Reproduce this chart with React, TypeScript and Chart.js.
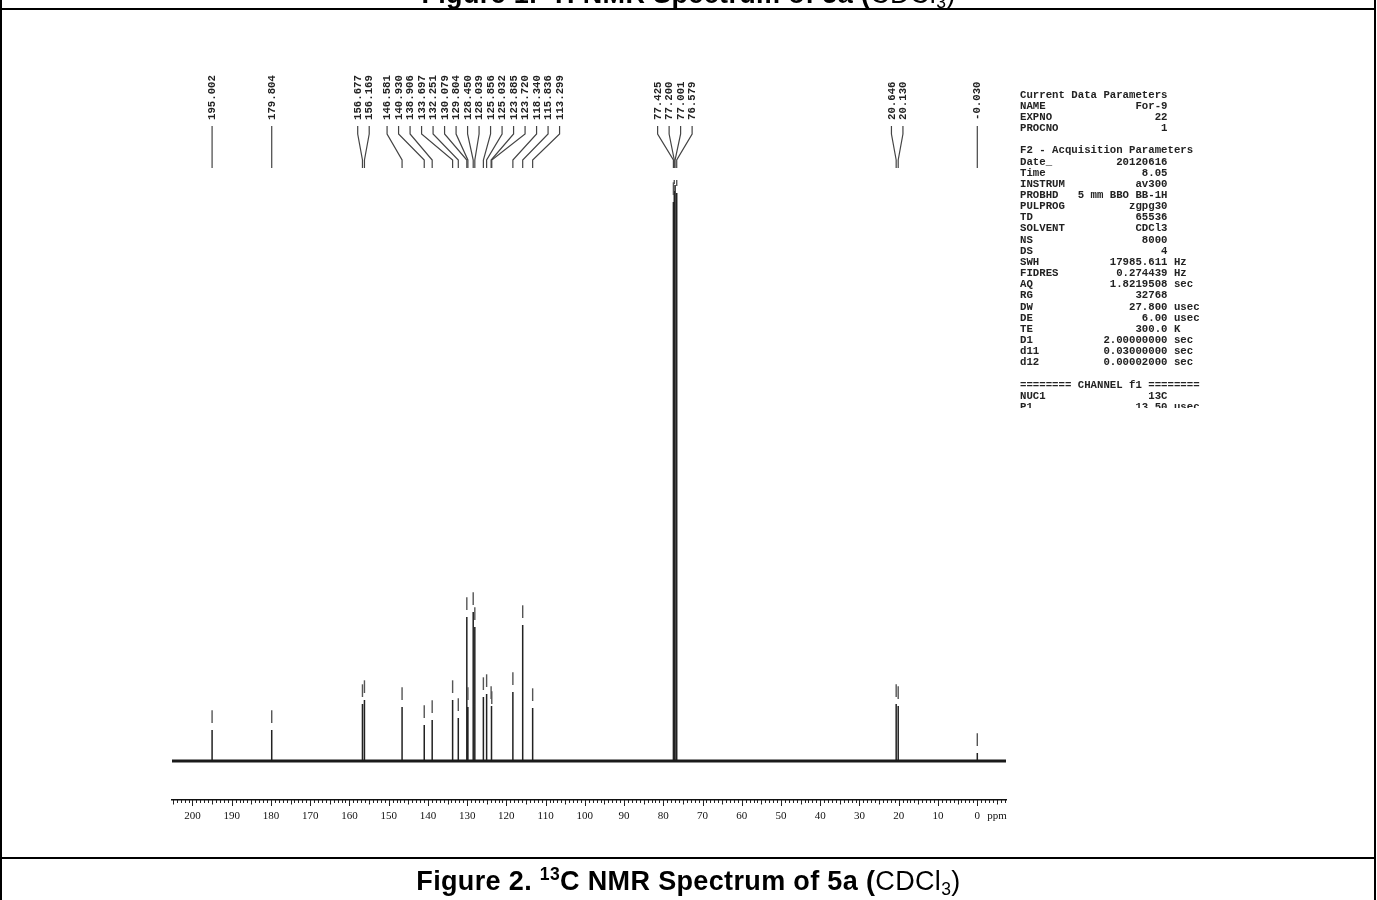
import React, { useEffect, useRef } from 'react';
import { Chart, registerables } from 'chart.js';

Chart.register(...registerables);

// ---------- data ----------
const peakPpm = [
  195.002, 179.804, 156.677, 156.169, 146.581, 140.93, 138.906, 133.697, 132.251,
  130.079, 129.804, 128.45, 128.039, 125.856, 125.032, 123.885, 123.72, 118.34,
  115.836, 113.299, 77.425, 77.2, 77.001, 76.579, 20.646, 20.13, -0.03,
];
// relative intensity (arbitrary units)
const peakIntensity = [
  31, 31, 57, 61, 54, 36, 41, 61, 43,
  144, 54, 149, 134, 64, 67, 55, 50, 69,
  136, 53, 559, 570, 576, 568, 57, 55, 8,
];

const xMinPpm = -7.345;
const xMaxPpm = 205.22;
const yMinInt = -39;
const yMaxInt = 581;
const majorTickStep = 10;

const currentNames = ['NAME', 'EXPNO', 'PROCNO'];
const currentValues = ['For-9', '22', '1'];
const acqNames = ['Date_', 'Time', 'INSTRUM', 'PROBHD', 'PULPROG', 'TD', 'SOLVENT', 'NS', 'DS', 'SWH', 'FIDRES', 'AQ', 'RG', 'DW', 'DE', 'TE', 'D1', 'd11', 'd12'];
const acqValues = ['20120616', '8.05', 'av300', '5 mm BBO BB-1H', 'zgpg30', '65536', 'CDCl3', '8000', '4', '17985.611', '0.274439', '1.8219508', '32768', '27.800', '6.00', '300.0', '2.00000000', '0.03000000', '0.00002000'];
const acqUnits = ['', '', '', '', '', '', '', '', '', 'Hz', 'Hz', 'sec', '', 'usec', 'usec', 'K', 'sec', 'sec', 'sec'];
const channelNames = ['NUC1', 'P1'];
const channelValues = ['13C', '13.50'];
const channelUnits = ['', 'usec'];

// ---------- helpers ----------
const COL = 23;
function row(name: string, value: string, unit: string) {
  const pad = Math.max(1, COL - name.length - value.length);
  return name + ' '.repeat(pad) + value + (unit ? ' ' + unit : '');
}
const paramText = [
  'Current Data Parameters',
  ...currentNames.map((n, i) => row(n, currentValues[i], '')),
  '',
  'F2 - Acquisition Parameters',
  ...acqNames.map((n, i) => row(n, acqValues[i], acqUnits[i])),
  '',
  '======== CHANNEL f1 ========',
  ...channelNames.map((n, i) => row(n, channelValues[i], channelUnits[i])),
].join('\n');

const LABEL_SPACING = 11.5;
function spreadLabels(xs: number[]): number[] {
  let groups = xs.map((x, i) => ({ s: i, e: i, sum: x }));
  let changed = true;
  while (changed) {
    changed = false;
    for (let g = 0; g < groups.length - 1; g++) {
      const a = groups[g];
      const b = groups[g + 1];
      const na = a.e - a.s + 1;
      const nb = b.e - b.s + 1;
      const aRight = a.sum / na + ((na - 1) / 2) * LABEL_SPACING;
      const bLeft = b.sum / nb - ((nb - 1) / 2) * LABEL_SPACING;
      if (bLeft - aRight < LABEL_SPACING) {
        groups.splice(g, 2, { s: a.s, e: b.e, sum: a.sum + b.sum });
        changed = true;
        break;
      }
    }
  }
  const out: number[] = new Array(xs.length);
  groups.forEach((g) => {
    const n = g.e - g.s + 1;
    const c = g.sum / n;
    for (let k = 0; k < n; k++) out[g.s + k] = c + (k - (n - 1) / 2) * LABEL_SPACING;
  });
  return out;
}

const MARK_GAP = 7;
const MARK_LEN = 12.7;
const TICK_FONT = 11;
const TICK_PAD = 10;

const decorPlugin = {
  id: 'nmrDecor',
  afterDatasetsDraw(chart: any) {
    const { ctx, chartArea, scales } = chart;
    const x = scales.x;
    const y = scales.y;
    ctx.save();
    ctx.beginPath();
    ctx.rect(chartArea.left, chartArea.top, chartArea.right - chartArea.left, chartArea.bottom - chartArea.top);
    ctx.clip();
    ctx.strokeStyle = '#555';
    ctx.lineWidth = 1.4;
    peakPpm.forEach((p, i) => {
      const px = x.getPixelForValue(p);
      const py = y.getPixelForValue(peakIntensity[i]);
      ctx.beginPath();
      ctx.moveTo(px, py - MARK_GAP);
      ctx.lineTo(px, py - MARK_GAP - MARK_LEN);
      ctx.stroke();
    });
    ctx.restore();
  },
  afterDraw(chart: any) {
    const { ctx, chartArea, scales } = chart;
    const x = scales.x;
    ctx.save();
    ctx.strokeStyle = '#222';
    ctx.lineWidth = 1;
    for (let v = Math.ceil(xMinPpm); v <= Math.floor(xMaxPpm); v++) {
      const px = Math.round(x.getPixelForValue(v)) + 0.5;
      const len = v % majorTickStep === 0 ? 6 : v % 5 === 0 ? 4.5 : 3;
      ctx.beginPath();
      ctx.moveTo(px, chartArea.bottom);
      ctx.lineTo(px, chartArea.bottom + len);
      ctx.stroke();
    }
    ctx.fillStyle = '#111';
    ctx.font = `${TICK_FONT}px "Liberation Serif", serif`;
    ctx.textAlign = 'left';
    ctx.textBaseline = 'middle';
    ctx.fillText('ppm', x.getPixelForValue(0) + 10, chartArea.bottom + TICK_PAD + (TICK_FONT * 1.2) / 2);

    const order = peakPpm.map((_, i) => i).sort((a, b) => x.getPixelForValue(peakPpm[a]) - x.getPixelForValue(peakPpm[b]));
    const peakX = order.map((i) => x.getPixelForValue(peakPpm[i]));
    const labelX = spreadLabels(peakX);
    const y0 = 126, y1 = 134, y2 = 160, y3 = 168;
    ctx.strokeStyle = '#444';
    ctx.lineWidth = 1.2;
    order.forEach((i, k) => {
      const lx = labelX[k];
      const px = peakX[k];
      ctx.beginPath();
      ctx.moveTo(lx, y0);
      ctx.lineTo(lx, y1);
      ctx.lineTo(px, y2);
      ctx.lineTo(px, y3);
      ctx.stroke();
      ctx.save();
      ctx.translate(lx, 120);
      ctx.rotate(-Math.PI / 2);
      ctx.fillStyle = '#222';
      ctx.font = 'bold 10.7px "Liberation Mono", monospace';
      ctx.textAlign = 'left';
      ctx.textBaseline = 'middle';
      ctx.fillText(peakPpm[i].toFixed(3), 0, 0.5);
      ctx.restore();
    });
    ctx.restore();
  },
};

export default function App() {
  const ref = useRef<HTMLCanvasElement>(null);
  useEffect(() => {
    const canvas = ref.current;
    if (!canvas) return;
    const order = peakPpm.map((_, i) => i).sort((a, b) => peakPpm[b] - peakPpm[a]);
    const spectrum: { x: number; y: number }[] = [];
    order.forEach((i) => {
      spectrum.push({ x: peakPpm[i], y: 0 }, { x: peakPpm[i], y: peakIntensity[i] }, { x: peakPpm[i], y: 0 });
    });
    const chart = new Chart(canvas, {
      type: 'line',
      data: {
        datasets: [
          {
            data: [
              { x: xMaxPpm, y: 0 },
              { x: xMinPpm, y: 0 },
            ],
            borderColor: '#1a1a1a',
            borderWidth: 3,
            pointRadius: 0,
            tension: 0,
          },
          {
            data: spectrum,
            borderColor: '#222',
            borderWidth: 1.5,
            pointRadius: 0,
            tension: 0,
          },
        ],
      },
      options: {
        responsive: false,
        devicePixelRatio: 1,
        animation: false,
        events: [],
        layout: { padding: { left: 172, right: 371, top: 180, bottom: 60 } },
        plugins: { legend: { display: false }, tooltip: { enabled: false }, title: { display: false } },
        scales: {
          x: {
            type: 'linear',
            reverse: true,
            min: xMinPpm,
            max: xMaxPpm,
            grid: { display: false, drawTicks: false },
            border: { display: true, color: '#111', width: 1.5 },
            afterFit: (s: any) => {
              s.height = 40;
            },
            ticks: {
              stepSize: 1,
              includeBounds: false,
              autoSkip: false,
              maxRotation: 0,
              minRotation: 0,
              padding: TICK_PAD,
              color: '#111',
              font: { family: '"Liberation Serif", serif', size: TICK_FONT },
              callback: (v: any) => (Number(v) % majorTickStep === 0 ? String(v) : ''),
            },
          },
          y: {
            type: 'linear',
            display: false,
            min: yMinInt,
            max: yMaxInt,
          },
        },
      },
      plugins: [decorPlugin],
    } as any);
    return () => chart.destroy();
  }, []);

  const line = (s: React.CSSProperties) => <div style={{ position: 'absolute', background: '#000', ...s }} />;
  const capStyle: React.CSSProperties = {
    position: 'absolute',
    left: 0,
    width: 1377,
    textAlign: 'center',
    whiteSpace: 'nowrap',
    fontFamily: '"Liberation Sans", Arial, sans-serif',
    fontSize: 27,
    lineHeight: '27px',
    fontWeight: 'bold',
    letterSpacing: '0.35px',
    color: '#000',
  };

  return (
    <div style={{ position: 'absolute', left: 0, top: 0, width: 1377, height: 900, background: '#fff', overflow: 'hidden' }}>
      <canvas ref={ref} width={1377} height={900} style={{ position: 'absolute', left: 0, top: 0, width: 1377, height: 900 }} />
      {/* previous figure caption, cut off at the top */}
      <div style={{ ...capStyle, top: -18.9 }}>
        Figure 1. <span style={{ fontSize: '0.65em', position: 'relative', top: '-0.55em' }}>1</span>H NMR Spectrum of 5a (
        <span style={{ fontWeight: 'normal' }}>CDCl<span style={{ fontSize: '0.65em', position: 'relative', top: '0.3em' }}>3</span>)</span>
      </div>
      {line({ left: 0, top: 0, width: 2, height: 900 })}
      {line({ left: 1374, top: 0, width: 2, height: 900 })}
      {line({ left: 0, top: 8, width: 1376, height: 2 })}
      {line({ left: 0, top: 857, width: 1376, height: 2 })}
      {/* parameter block */}
      <div style={{ position: 'absolute', left: 1020, top: 89.6, height: 318, overflow: 'hidden' }}>
        <pre style={{ margin: 0, fontFamily: '"Liberation Mono", monospace', fontSize: 10.7, lineHeight: '11.15px', fontWeight: 'bold', color: '#222', whiteSpace: 'pre' }}>{paramText}</pre>
      </div>
      {/* caption */}
      <div style={{ ...capStyle, top: 868.1 }}>
        Figure 2. <span style={{ fontSize: '0.65em', position: 'relative', top: '-0.55em' }}>13</span>C NMR Spectrum of 5a (
        <span style={{ fontWeight: 'normal' }}>CDCl<span style={{ fontSize: '0.65em', position: 'relative', top: '0.3em' }}>3</span>)</span>
      </div>
    </div>
  );
}
